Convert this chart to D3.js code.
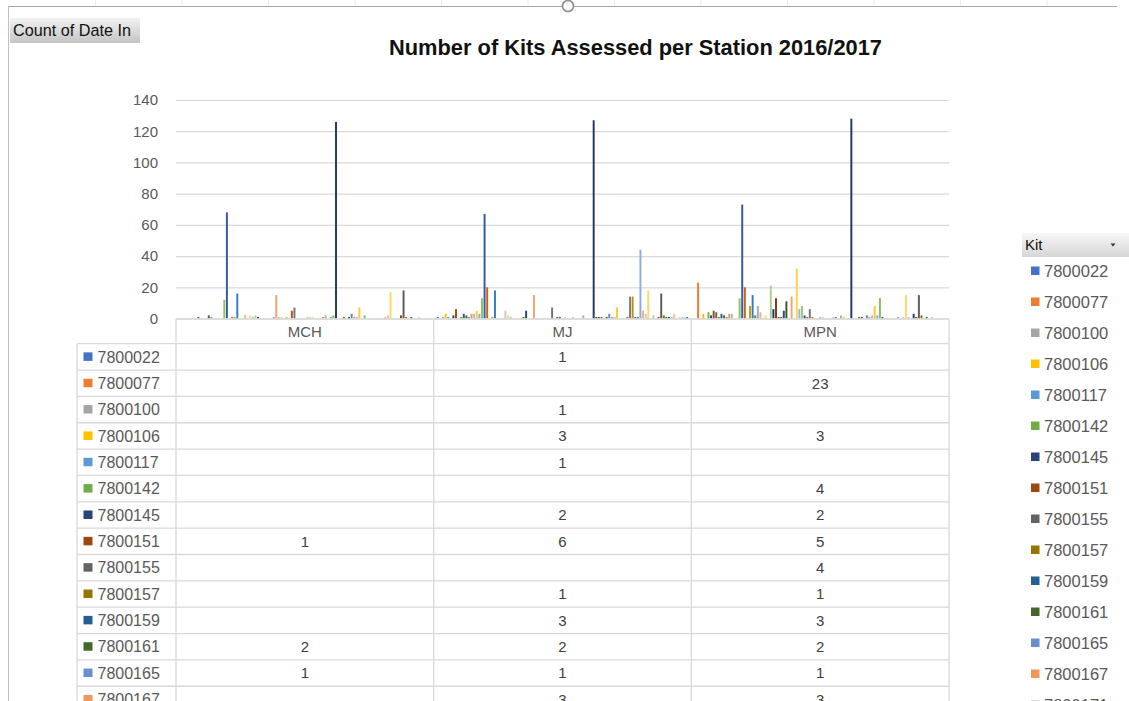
<!DOCTYPE html>
<html><head><meta charset="utf-8">
<script src="https://cdn.jsdelivr.net/npm/d3@7"></script>
<style>body{margin:0;background:#fff;}svg{display:block;font-family:"Liberation Sans",Arial,sans-serif;}</style>
</head><body>
<svg id="c" width="1129" height="701"></svg>
<script>
const categories = ["MCH", "MJ", "MPN"];
const kits = [
 "7800022","7800077","7800100","7800106","7800117","7800142","7800145","7800151","7800155","7800157",
 "7800159","7800161","7800165","7800167","7800171","7800174","7800178","7800182","7800185","7800189",
 "7800193","7800196","7800201","7800204","7800208","7800212","7800215","7800219","7800223","7800227",
 "7800230","7800234","7800238","7800241","7800245","7800249","7800252","7800256","7800260","7800263",
 "7800267","7800271","7800274","7800278","7800282","7800285","7800289","7800293","7800297","7800300",
 "7800304","7800308","7800311","7800315","7800319","7800322","7800326","7800330","7800333","7800337",
 "7800341","7800344","7800348","7800352","7800355","7800359","7800363","7800367","7800370","7800374",
 "7800378","7800381","7800385","7800389","7800392","7800396","7800400","7800403","7800407","7800411",
 "7800414","7800418","7800422","7800425","7800429","7800433","7800437","7800440","7800444","7800448",
 "7800451","7800455","7800459","7800462","7800466","7800470","7800473"];
const mchValues = [
 0,0,0,0,0,0,0,1,0,0,
 0,2,1,0,0,0,0,12,68,0,
 1,1,16,0,0,2,0,2,1,2,
 1,0,0,0,0,0,1,15,1,1,
 0,1,0,5,7,0,0,0,0,1,
 1,1,0,0,0,1,2,0,1,2,
 126,0,0,1,0,1,3,1,1,7,
 0,2,0,0,0,0,0,0,0,1,
 2,17,0,0,0,2,18,1,0,1,
 0,0,1,0,0,0,0];
const mjValues = [
 1,0,1,3,1,0,2,6,0,1,
 3,2,1,3,3,5,3,13,67,20,
 0,1,18,0,0,0,5,2,1,0,
 0,0,0,1,5,0,0,15,0,0,
 0,0,0,0,7,0,1,1,0,1,
 0,0,1,0,0,0,2,0,0,0,
 127,1,1,1,0,1,3,1,1,7,
 0,0,0,1,14,14,1,1,44,5,
 3,18,0,2,0,1,16,2,1,1,
 1,3,0,1,1,1,1];
const mpnValues = [
 0,23,0,3,0,4,2,5,4,1,
 3,2,1,3,3,0,0,13,73,20,
 0,8,15,2,8,4,0,2,0,21,
 6,13,1,1,5,11,0,14,0,32,
 6,8,2,1,6,1,0,0,1,1,
 0,0,0,1,1,0,2,1,0,0,
 128,0,0,1,1,0,2,1,2,8,
 2,13,1,0,0,0,0,0,1,0,
 1,15,1,0,3,1,15,2,0,1,
 0,1,0,0,0,0,0];
const yTicks = [0,20,40,60,80,100,120,140];
const titleText = "Number of Kits Assessed per Station 2016/2017";
const fieldButton = "Count of Date In";
const legendTitle = "Kit";
const tableRowsShown = 14;

const valuesByCat = {MCH: mchValues, MJ: mjValues, MPN: mpnValues};

// Excel-like colour cycle (style)
const accents = ["#4472C4","#ED7D31","#A5A5A5","#FFC000","#5B9BD5","#70AD47"];
const variants = [[1,0],[0.6,0],[0.8,0.2],[0.8,0],[0.6,0.4],[0.5,0],[0.7,0.3],[0.7,0],[0.5,0.5],
                  [0.9,0.1],[0.5,0],[0.85,0.15],[0.75,0],[0.6,0.4],[0.55,0],[0.5,0.5],[0.9,0]];
function colorFor(i){
  const c = d3.hsl(accents[i % 6]);
  const v = variants[Math.floor(i/6) % variants.length];
  c.l = Math.min(1, c.l*v[0] + v[1]);
  return c.formatHex();
}

const svg = d3.select("#c");
const gridCol = "#D9D9D9", txtCol = "#595959";

// worksheet chrome
d3.range(95.5, 1120, 86.5).forEach(x=>{
  svg.append("line").attr("x1",x).attr("x2",x).attr("y1",0).attr("y2",6).attr("stroke","#ECECEC");
});
svg.append("line").attr("x1",8).attr("x2",1117).attr("y1",6.5).attr("y2",6.5).attr("stroke","#A6A6A6");
svg.append("line").attr("x1",8.5).attr("x2",8.5).attr("y1",6).attr("y2",701).attr("stroke","#BFBFBF");
svg.append("circle").attr("cx",568).attr("cy",6).attr("r",5.5).attr("fill","#fff").attr("stroke","#8C8C8C").attr("stroke-width",1.6);

// field button
const defs = svg.append("defs");
const g1 = defs.append("linearGradient").attr("id","btn").attr("x1",0).attr("x2",0).attr("y1",0).attr("y2",1);
g1.append("stop").attr("offset","0%").attr("stop-color","#F2F2F2");
g1.append("stop").attr("offset","100%").attr("stop-color","#C4C4C4");
const g2 = defs.append("linearGradient").attr("id","btn2").attr("x1",0).attr("x2",0).attr("y1",0).attr("y2",1);
g2.append("stop").attr("offset","0%").attr("stop-color","#F7F7F7");
g2.append("stop").attr("offset","100%").attr("stop-color","#D6D6D6");
svg.append("rect").attr("x",10).attr("y",18).attr("width",130).attr("height",25).attr("fill","url(#btn)");
const btn = svg.append("text").attr("x",13).attr("y",36).attr("font-size",15).attr("fill","#111").text(fieldButton);
btn.attr("font-size", 15*118/btn.node().getComputedTextLength());

// title
const title = svg.append("text").attr("x",635.5).attr("y",55).attr("text-anchor","middle")
  .attr("font-weight","bold").attr("font-size",19).attr("fill","#111").text(titleText);
const tw = title.node().getComputedTextLength();
title.attr("font-size", 19*493/tw);

// scales
const plotL = 176, plotR = 949, yBase = 318.5, yTop = 100;
const x0 = d3.scaleBand().domain(categories).range([plotL, plotR]).padding(0);
const x1 = d3.scaleBand().domain(d3.range(kits.length)).range([0, x0.bandwidth()])
  .paddingInner(0.25).paddingOuter(1.22);
const y = d3.scaleLinear().domain([0,140]).range([yBase, yTop]);

// gridlines + axis labels
const yAxis = d3.axisLeft(y).tickValues(yTicks).tickSize(-(plotR-plotL)).tickPadding(18).tickFormat(d3.format("d"));
const ga = svg.append("g").attr("transform",`translate(${plotL},0)`).call(yAxis);
ga.select(".domain").remove();
ga.selectAll(".tick line").attr("stroke",gridCol).attr("stroke-width",1.2);
ga.selectAll(".tick text").attr("fill",txtCol).attr("font-size",15).attr("font-family","Liberation Sans, Arial, sans-serif");

// bars
const barsData = [];
categories.forEach(c=>{
  valuesByCat[c].forEach((v,i)=>{ if(v>0) barsData.push({c,i,v}); });
});
svg.append("g").selectAll("rect").data(barsData).join("rect")
  .attr("x", d=>x0(d.c)+x1(d.i)).attr("width", x1.bandwidth())
  .attr("y", d=>y(d.v)).attr("height", d=>yBase - y(d.v))
  .attr("fill", d=>colorFor(d.i));

// data table
const rowH = 26.35, headTop = 319, headBot = 343.7, labL = 77;
const tg = svg.append("g").attr("stroke",gridCol).attr("stroke-width",1.3);
tg.append("line").attr("x1",plotL).attr("x2",plotR).attr("y1",headTop).attr("y2",headTop);
for(let r=0;r<=tableRowsShown;r++){
  const yy = headBot + r*rowH;
  tg.append("line").attr("x1",labL).attr("x2",plotR).attr("y1",yy).attr("y2",yy);
}
tg.append("line").attr("x1",labL).attr("x2",labL).attr("y1",headBot).attr("y2",701);
[plotL, ...categories.map(c=>x0(c)+x0.bandwidth())].forEach(x=>{
  tg.append("line").attr("x1",x).attr("x2",x).attr("y1",headTop).attr("y2",701);
});
categories.forEach(c=>{
  svg.append("text").attr("x",x0(c)+x0.bandwidth()/2).attr("y",(headTop+headBot)/2).attr("dy","0.36em")
    .attr("text-anchor","middle").attr("font-size",15).attr("fill",txtCol).text(c);
});
kits.slice(0, tableRowsShown).forEach((k,i)=>{
  const cy = headBot + i*rowH + rowH/2;
  svg.append("rect").attr("x",83.5).attr("y",cy-4.5).attr("width",9).attr("height",8.5).attr("fill",colorFor(i));
  svg.append("text").attr("x",97.5).attr("y",cy).attr("dy","0.36em").attr("font-size",16).attr("fill",txtCol).text(k);
  categories.forEach(c=>{
    const v = valuesByCat[c][i];
    if(v>0) svg.append("text").attr("x",x0(c)+x0.bandwidth()/2).attr("y",cy).attr("dy","0.36em")
      .attr("text-anchor","middle").attr("font-size",15).attr("fill","#404040").text(v);
  });
});

// legend
svg.append("rect").attr("x",1022).attr("y",233).attr("width",107).attr("height",24).attr("fill","url(#btn2)");
svg.append("text").attr("x",1025).attr("y",245).attr("dy","0.36em").attr("font-size",15).attr("fill","#111").text(legendTitle);
svg.append("path").attr("d","M1110.5,243.5 L1115.5,243.5 L1113,246.5 Z").attr("fill","#333");
kits.forEach((k,i)=>{
  const cy = 271 + i*31;
  if(cy > 720) return;
  svg.append("rect").attr("x",1031).attr("y",cy-4.5).attr("width",8.5).attr("height",8.5).attr("fill",colorFor(i));
  svg.append("text").attr("x",1044).attr("y",cy).attr("dy","0.36em").attr("font-size",16.5).attr("fill",txtCol).text(k);
});
</script>
</body></html>
